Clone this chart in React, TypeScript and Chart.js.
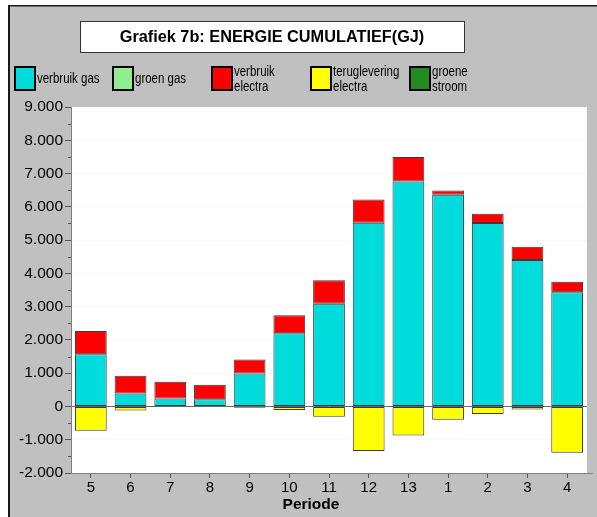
import React, { useEffect, useRef } from "react";
import { Chart, registerables } from "chart.js";

Chart.register(...registerables);

const chartTitle = "Grafiek 7b: ENERGIE CUMULATIEF(GJ)";
const xAxisTitle = "Periode";
const categories = ["5", "6", "7", "8", "9", "10", "11", "12", "13", "1", "2", "3", "4"];
const verbruikGas = [1570, 390, 240, 220, 990, 2200, 3090, 5520, 6760, 6360, 5510, 4400, 3430];
const groenGas = [0, 0, 0, 0, 0, 0, 0, 0, 0, 0, 0, 0, 0];
const verbruikElectra = [700, 530, 500, 430, 420, 540, 700, 700, 740, 130, 280, 400, 320];
const terugleveringElectra = [-730, -120, 0, 0, -40, -110, -310, -1340, -870, -400, -230, -90, -1390];
const groeneStroom = [0, 0, 0, 0, 0, 0, 0, 0, 0, 0, 0, 0, 0];
const yMin = -2000;
const yMax = 9000;
const yStep = 1000;

const seriesNames = [["verbruik gas"], ["groen gas"], ["verbruik", "electra"], ["teruglevering", "electra"], ["groene", "stroom"]];
const seriesColors = ["#00DCDC", "#90EE90", "#FF0000", "#FFFF00", "#228B22"];
const seriesData = [verbruikGas, groenGas, verbruikElectra, terugleveringElectra, groeneStroom];

const FONT = "'Liberation Sans', Arial, Helvetica, sans-serif";

function fmt(v: number): string {
  const s = Math.abs(v).toString().replace(/\B(?=(\d{3})+(?!\d))/g, ".");
  return v < 0 ? "-" + s : s;
}

function narrowText(ctx: CanvasRenderingContext2D, text: string, x: number, y: number) {
  ctx.save();
  ctx.translate(x, y);
  ctx.scale(0.82, 1);
  ctx.fillText(text, 0, 0);
  ctx.restore();
}

const decorPlugin = {
  id: "decor",
  beforeDraw(chart: any) {
    const { ctx, chartArea } = chart;
    ctx.save();
    // gray panel
    ctx.fillStyle = "#C0C0C0";
    ctx.fillRect(8, 5, chart.width - 8, chart.height - 5);
    ctx.fillStyle = "#1a1a1a";
    ctx.fillRect(8, 5, 2, chart.height - 5);
    ctx.fillRect(8, 5, chart.width - 8, 1.5);
    // plot area
    ctx.fillStyle = "#FFFFFF";
    ctx.fillRect(chartArea.left, chartArea.top, chartArea.right - chartArea.left, chartArea.bottom - chartArea.top);
    // title box
    ctx.fillStyle = "#FFFFFF";
    ctx.fillRect(80, 21, 384, 31);
    ctx.strokeStyle = "#333";
    ctx.lineWidth = 1;
    ctx.strokeRect(80.5, 21.5, 384, 31);
    ctx.fillStyle = "#000";
    ctx.font = `bold 16.3px ${FONT}`;
    ctx.textAlign = "center";
    ctx.textBaseline = "middle";
    ctx.fillText(chartTitle, 272, 37.5);
    // legend
    const xs = [15, 113, 212, 311, 410];
    ctx.font = `14px ${FONT}`;
    ctx.textAlign = "left";
    seriesNames.forEach((lines, i) => {
      const x = xs[i];
      ctx.fillStyle = seriesColors[i];
      ctx.fillRect(x, 67, 20, 23);
      ctx.strokeStyle = "#000";
      ctx.lineWidth = 2;
      ctx.strokeRect(x, 67, 20, 23);
      ctx.fillStyle = "#000";
      if (lines.length === 1) {
        narrowText(ctx, lines[0], x + 22, 79.5);
      } else {
        narrowText(ctx, lines[0], x + 22, 72);
        narrowText(ctx, lines[1], x + 22, 87.5);
      }
    });
    ctx.restore();
  },
  afterDraw(chart: any) {
    const { ctx, chartArea, scales } = chart;
    const y = scales.y;
    ctx.save();
    ctx.strokeStyle = "#555";
    ctx.lineWidth = 1;
    ctx.beginPath();
    for (let v = yMin + yStep / 2; v < yMax; v += yStep) {
      const py = Math.round(y.getPixelForValue(v)) + 0.5;
      ctx.moveTo(chartArea.left - 3, py);
      ctx.lineTo(chartArea.left, py);
    }
    ctx.stroke();
    // x axis line extension
    ctx.strokeStyle = "#808080";
    ctx.beginPath();
    ctx.moveTo(chartArea.right, Math.round(chartArea.bottom) + 0.5);
    ctx.lineTo(chartArea.right + 6, Math.round(chartArea.bottom) + 0.5);
    ctx.stroke();
    // x axis title
    ctx.fillStyle = "#000";
    ctx.font = `bold 15.5px ${FONT}`;
    ctx.textAlign = "center";
    ctx.textBaseline = "middle";
    ctx.fillText(xAxisTitle, 311, 505);
    ctx.restore();
  },
};

export default function App() {
  const ref = useRef<HTMLCanvasElement>(null);
  useEffect(() => {
    if (!ref.current) return;
    const chart = new Chart(ref.current, {
      type: "bar",
      data: {
        labels: categories,
        datasets: seriesData.map((d, i) => ({
          label: seriesNames[i].join(" "),
          data: d,
          backgroundColor: seriesColors[i],
          borderColor: "#3a3a3a",
          borderWidth: (c: any) => (c.raw === 0 ? 0 : 1),
          borderSkipped: false,
          barPercentage: 0.8,
          categoryPercentage: 1.0,
        })),
      },
      options: {
        responsive: false,
        animation: false,
        devicePixelRatio: 1,
        layout: { padding: { top: 107, right: 10, left: 0, bottom: 0 } },
        plugins: { legend: { display: false }, title: { display: false }, tooltip: { enabled: false } },
        scales: {
          x: {
            stacked: true,
            afterFit: (s: any) => { s.height = 44; },
            grid: { display: true, drawOnChartArea: false, offset: false, tickLength: 5, tickColor: "#555" },
            border: { display: true, color: "#808080", width: 1 },
            ticks: { color: "#000", font: { family: FONT, size: 15 }, padding: 1, maxRotation: 0, autoSkip: false },
          },
          y: {
            stacked: true,
            min: yMin,
            max: yMax,
            afterFit: (s: any) => { s.width = 71; },
            grid: {
              drawOnChartArea: true,
              color: (c: any) => (c.tick && c.tick.value === 0 ? "#666" : "rgba(0,0,0,0.025)"),
              tickColor: "#555",
              tickLength: 6,
            },
            border: { display: true, color: "#808080", width: 1 },
            ticks: {
              stepSize: yStep,
              color: "#000",
              font: { family: FONT, size: 15.5 },
              padding: 2,
              callback: (v: any) => fmt(Number(v)),
            },
          },
        },
      },
      plugins: [decorPlugin],
    });
    return () => chart.destroy();
  }, []);
  return (
    <div style={{ position: "fixed", left: 0, top: 0, width: 597, height: 517, background: "#fff" }}>
      <canvas ref={ref} width={597} height={517} style={{ display: "block" }} />
    </div>
  );
}
